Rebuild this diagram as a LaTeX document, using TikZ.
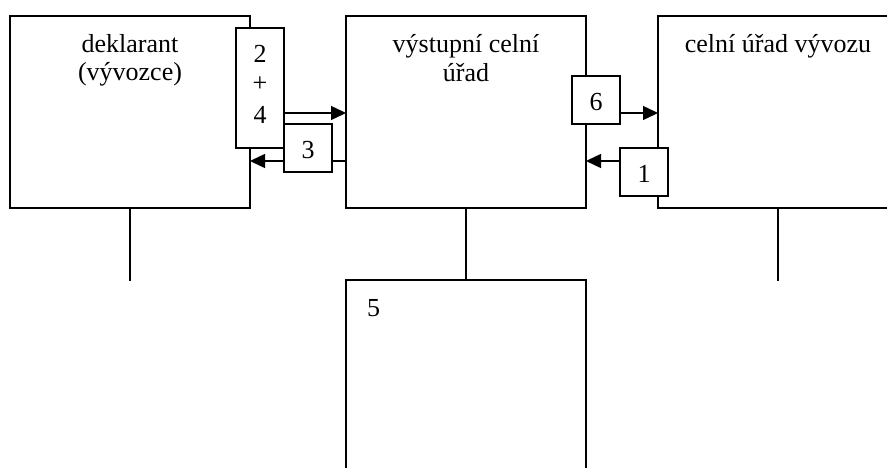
\documentclass[tikz,border=0pt]{standalone}
\usepackage{fontspec}
\setmainfont{Liberation Serif}
\usetikzlibrary{arrows.meta}
\begin{document}
\begin{tikzpicture}[x=1pt,y=-1pt,
  lw/.style={line width=1.4pt},
  bigbox/.style={draw, lw, minimum width=240pt, minimum height=192pt, inner sep=0pt, outer sep=0pt},
  smallbox/.style={draw, lw, fill=white, minimum width=48pt, minimum height=48pt, inner sep=0pt, outer sep=0pt},
  txt/.style={font=\fontsize{26}{28}\selectfont, inner sep=0pt, anchor=base},
  arr/.style={lw, -{Triangle[length=15pt,width=14pt]}},
  plain/.style={lw}]
\useasboundingbox (0,0) rectangle (887,468);
% big boxes
\node[bigbox] (dek) at (130,112) {};
\node[bigbox] (vys) at (466,112) {};
\node[bigbox] (vyv) at (778,112) {};
\node[bigbox] (b5) at (466,376) {};
% coordinates for connector ends
\coordinate (a3) at ([yshift=-49pt]vys.west);
\coordinate (dekend) at ([yshift=-73pt]dek.south);
\coordinate (vyvend) at ([yshift=-73pt]vyv.south);
% arrow 3 (drawn under box 3)
\draw[arr] (a3) -- (a3 -| dek.east);
% small boxes
\node[smallbox, minimum height=120pt] (b24) at (260,88) {};
\node[smallbox] (b3) at (308,148) {};
\node[smallbox] (b6) at (596,100) {};
\node[smallbox] (b1) at (644,172) {};
% arrows
\coordinate (a24) at ([yshift=-25pt]b24.east);
\draw[arr] (a24) -- (a24 -| vys.west);
\coordinate (a6) at ([yshift=-13pt]b6.east);
\draw[arr] (a6) -- (a6 -| vyv.west);
\coordinate (a1) at ([yshift=11pt]b1.west);
\draw[arr] (a1) -- (a1 -| vys.east);
% vertical lines
\draw[plain] (dek.south) -- (dekend);
\draw[plain] (vys.south) -- (b5.north);
\draw[plain] (vyv.south) -- (vyvend);
% texts
\node[txt] (t1) at (130,53) {deklarant};
\node[txt] (t2) at (130,81) {(vývozce)};
\node[txt] (t3) at (466,53) {výstupní celní};
\node[txt] (t4) at (466,82) {úřad};
\node[txt] (t5) at (778,53) {celní úřad vývozu};
\node[txt] (n2) at (260,63) {2};
\node[txt] (nplus) at (260,92) {+};
\node[txt] (n4) at (260,124) {4};
\node[txt] (n3) at (308,159) {3};
\node[txt] (n6) at (596,111) {6};
\node[txt] (n1) at (644,183) {1};
\node[txt, anchor=base west] (n5) at (367,316) {5};
\end{tikzpicture}
\end{document}
